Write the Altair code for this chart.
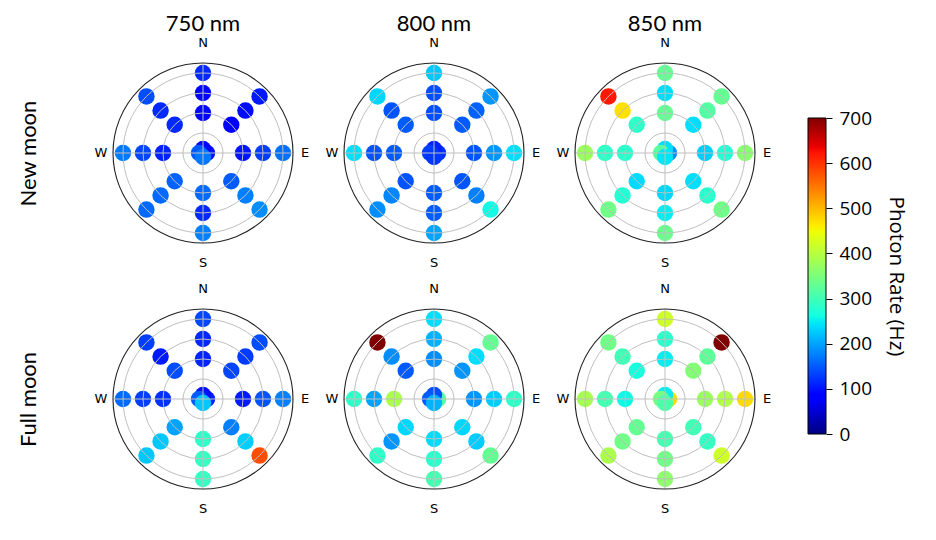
import altair as alt
import pandas as pd

# ---------------- data ----------------
wavelengths = ["750 nm", "800 nm", "850 nm"]
moons = ["New moon", "Full moon"]

ring_azimuth = [0, 45, 90, 135, 180, 225, 270, 315]   # N, NE, E, SE, S, SW, W, NW
ring_zenith = [40, 60, 80]
center_azimuth = [90, 0, 270, 180]                     # E, N, W, S (draw order)
center_zenith = 4
grid_zenith = [20, 40, 60, 80]
outer_zenith = 90
compass_labels = ["N", "E", "S", "W"]
compass_azimuth = [0, 90, 180, 270]
cross_azimuth = [0, 90]

# photon rate (Hz) per azimuth [zenith 40, 60, 80]
new_750_ring = [[90, 90, 115], [85, 95, 105], [100, 130, 165], [150, 175, 185],
                [160, 115, 175], [155, 160, 160], [110, 135, 170], [115, 115, 140]]
new_750_center = [100, 90, 150, 170]
new_800_ring = [[140, 140, 225], [150, 155, 190], [145, 190, 240], [145, 175, 260],
                [150, 150, 200], [145, 180, 185], [150, 145, 240], [150, 145, 235]]
new_800_center = [120, 110, 130, 125]
new_850_ring = [[330, 240, 330], [240, 315, 330], [230, 275, 360], [240, 280, 340],
                [235, 250, 335], [238, 275, 340], [280, 285, 375], [285, 470, 620]]
new_850_center = [185, 240, 320, 245]
full_750_ring = [[112, 115, 135], [135, 128, 140], [105, 145, 175], [175, 230, 580],
                 [285, 290, 290], [200, 225, 225], [120, 130, 160], [140, 105, 130]]
full_750_center = [110, 95, 150, 225]
full_800_ring = [[185, 210, 240], [190, 240, 330], [190, 228, 285], [235, 228, 330],
                 [238, 280, 305], [235, 190, 285], [390, 200, 285], [150, 185, 700]]
full_800_center = [315, 140, 150, 210]
full_850_ring = [[250, 280, 420], [355, 325, 700], [375, 395, 475], [300, 290, 420],
                 [305, 340, 365], [330, 340, 390], [258, 305, 385], [265, 300, 340]]
full_850_center = [475, 250, 345, 310]

panels = [
    [(new_750_ring, new_750_center), (new_800_ring, new_800_center), (new_850_ring, new_850_center)],
    [(full_750_ring, full_750_center), (full_800_ring, full_800_center), (full_850_ring, full_850_center)],
]

cbar_min, cbar_max = 0, 700
cbar_ticks = [0, 100, 200, 300, 400, 500, 600, 700]

# matplotlib "jet" colormap stops
jet_pos = [0, 0.11, 0.125, 0.34, 0.35, 0.375, 0.64, 0.65, 0.66, 0.89, 0.91, 1.0]
jet_col = ["#000080", "#0000ff", "#0000ff", "#00dbff", "#00e6f7", "#15ffe2",
           "#efff08", "#f7f500", "#ffec00", "#ff1300", "#e80000", "#800000"]

# ---------------- styling ----------------
FONT = "Open Sans"
TFONT = "Lato"
HALF = 115          # half-extent of each panel's coordinate system (px per degree = 1)
PANEL = 2 * HALF
GRID_COLOR = "#bfbfbf"

cscale = alt.Scale(domain=[cbar_min + p * (cbar_max - cbar_min) for p in jet_pos],
                   range=jet_col, interpolate="rgb")
xs = alt.Scale(domain=[-HALF, HALF], nice=False, zero=False)
ys = alt.Scale(domain=[-HALF, HALF], nice=False, zero=False)

XCALC = "datum.zen * sin(datum.az * PI / 180)"
YCALC = "datum.zen * cos(datum.az * PI / 180)"


def panel(ring, center, title, row_label):
    rows = []
    for a, vals in zip(ring_azimuth, ring):
        for z, v in zip(ring_zenith, vals):
            rows.append({"az": a, "zen": z, "rate": v})
    for a, v in zip(center_azimuth, center):
        rows.append({"az": a, "zen": center_zenith, "rate": v})
    dots_df = pd.DataFrame(rows)

    if row_label:
        yax = alt.Axis(title=row_label, labels=False, ticks=False, domain=False, grid=False,
                       titleFont=TFONT, titleFontSize=22, titleFontWeight="normal",
                       titleColor="black", titlePadding=48)
    else:
        yax = None

    def X(f):
        return alt.X(f, scale=xs, axis=None)

    def Y(f):
        return alt.Y(f, scale=ys, axis=yax)

    dots = alt.Chart(dots_df).transform_calculate(x=XCALC, y=YCALC).mark_circle(
        size=270, opacity=1
    ).encode(x=X("x:Q"), y=Y("y:Q"),
             color=alt.Color("rate:Q", scale=cscale, legend=None))

    grid = alt.Chart(pd.DataFrame({"zen": grid_zenith})).transform_calculate(
        s="4 * datum.zen * datum.zen", x="0", y="0"
    ).mark_point(shape="circle", filled=False, opacity=1, color=GRID_COLOR, strokeWidth=1).encode(
        x=X("x:Q"), y=Y("y:Q"), size=alt.Size("s:Q", scale=None))

    cross = alt.Chart(pd.DataFrame({"az": cross_azimuth})).transform_calculate(
        x=f"{outer_zenith} * sin(datum.az * PI / 180)",
        y=f"{outer_zenith} * cos(datum.az * PI / 180)",
        x2="-datum.x", y2="-datum.y"
    ).mark_rule(color=GRID_COLOR, strokeWidth=1).encode(
        x=X("x:Q"), y=Y("y:Q"), x2="x2:Q", y2="y2:Q")

    outer = alt.Chart(pd.DataFrame({"zen": [outer_zenith]})).transform_calculate(
        s="4 * datum.zen * datum.zen", x="0", y="0"
    ).mark_point(shape="circle", filled=False, opacity=1, color="#222222", strokeWidth=1.1).encode(
        x=X("x:Q"), y=Y("y:Q"), size=alt.Size("s:Q", scale=None))

    labels = alt.Chart(pd.DataFrame({"az": compass_azimuth, "lab": compass_labels})).transform_calculate(
        zen="(datum.az % 180 == 0) ? 110 : 102"
    ).transform_calculate(x=XCALC, y=YCALC).mark_text(
        font="DejaVu Sans", fontSize=13, color="black", baseline="middle", align="center"
    ).encode(x=X("x:Q"), y=Y("y:Q"), text="lab:N")

    ch = alt.layer(dots, grid, cross, outer, labels).properties(width=PANEL, height=PANEL)
    if title:
        ch = ch.properties(title=alt.Title(title, font=TFONT, fontSize=22, fontWeight="normal",
                                           color="black", offset=1))
    return ch


row_charts = []
for ri, moon in enumerate(moons):
    cells = []
    for ci, wl in enumerate(wavelengths):
        ring, center = panels[ri][ci]
        cells.append(panel(ring, center, wl if ri == 0 else None, moon if ci == 0 else None))
    row_charts.append(alt.hconcat(*cells, spacing=1))

grid_block = alt.vconcat(*row_charts, spacing=12)

# colorbar
cbar_df = pd.DataFrame({"lo": [cbar_min], "hi": [cbar_max]})
grad = alt.LinearGradient(
    gradient="linear",
    stops=[alt.GradientStop(color=c, offset=p) for p, c in zip(jet_pos, jet_col)],
    x1=0, x2=0, y1=1, y2=0,
)
cbar = alt.Chart(cbar_df).mark_rect(fill=grad, stroke="black", strokeWidth=1).encode(
    y=alt.Y("lo:Q", scale=alt.Scale(domain=[cbar_min, cbar_max], range=[396, 80], nice=False),
            axis=alt.Axis(orient="right", values=cbar_ticks, tickSize=6, tickColor="black",
                          labelPadding=7, labelFont=FONT, labelFontSize=19, labelColor="black",
                          domain=False, grid=False, title="Photon Rate (Hz)", titleFont=FONT,
                          titleFontSize=20.5, titleFontWeight="normal", titleColor="black",
                          titlePadding=14)),
    y2="hi:Q",
    x=alt.value(0), x2=alt.value(18),
).properties(width=18, height=400)

chart = alt.hconcat(grid_block, cbar, spacing=27).properties(
    padding={"left": 9, "top": 4, "right": 8, "bottom": 0}
).configure_view(strokeWidth=0)

chart.save("out.html", embed_options={"renderer": "svg", "actions": False})
